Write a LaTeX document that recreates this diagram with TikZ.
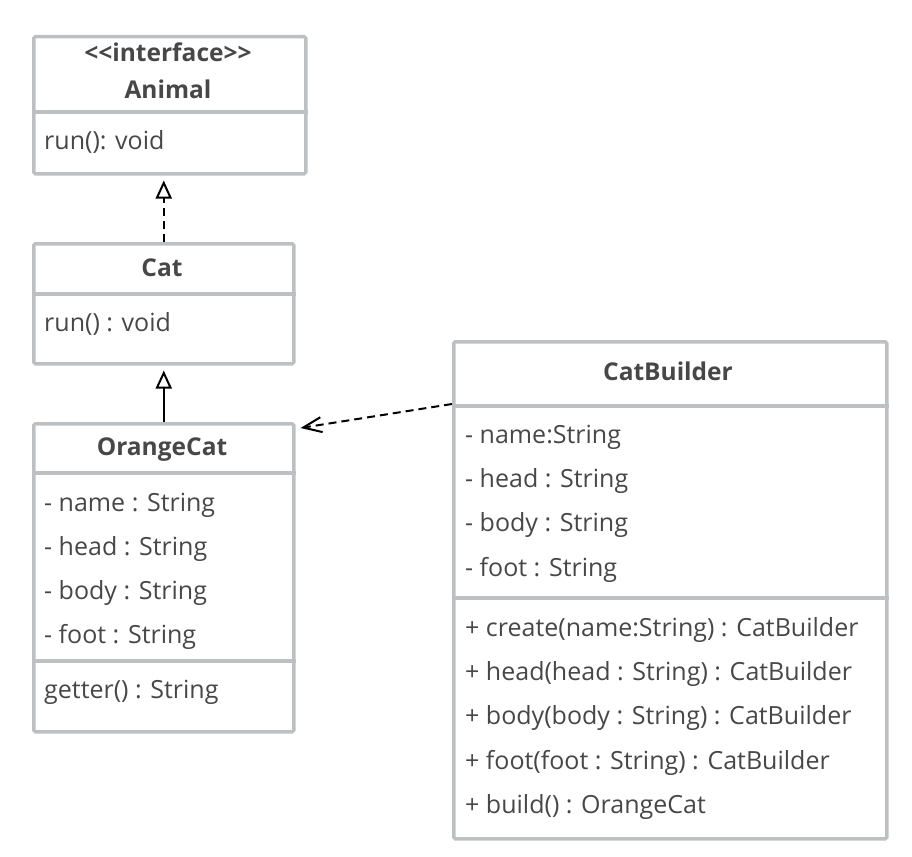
\documentclass[tikz,border=0pt]{standalone}
\usepackage{fontspec}
\setmainfont{Open Sans}
\usetikzlibrary{positioning}
\usetikzlibrary{calc}
\usetikzlibrary{arrows.meta}
\definecolor{boxgray}{HTML}{BDC0C2}
\definecolor{textgray}{HTML}{474747}

\begin{document}
\begin{tikzpicture}[x=1pt,y=-1pt,
  umlbox/.style={draw=boxgray,line width=3.5pt,rounded corners=1.5pt,anchor=north west,inner sep=0pt},
  divider/.style={draw=boxgray,line width=3.5pt},
  title/.style={anchor=base,inner sep=0pt,text=textgray,font=\bfseries\fontsize{24.5}{28}\selectfont},
  member/.style={anchor=base west,inner sep=0pt,text=textgray,font=\fontsize{25}{29}\selectfont},
  realize/.style={line width=2pt,dash pattern=on 8pt off 5pt,shorten >=5pt,-{Triangle[open,length=18pt,width=16pt]}},
  inherit/.style={line width=2pt,shorten >=5pt,-{Triangle[open,length=18pt,width=16pt]}},
  depend/.style={line width=2pt,dash pattern=on 8pt off 5pt,-{Straight Barb[angle=44:20pt]}}]
  \useasboundingbox (0,0) rectangle (912,856);

  % Animal
  \node[umlbox,minimum width=272pt,minimum height=137pt] (animal) at (32,35) {};
  \draw[divider] (animal.west |- 0,112) -- (animal.east |- 0,112);
  \node[title] (animalstereo) at (168,62) {<\kern0pt<interface>\kern0pt>};
  \node[title] (animalname) at (168,99) {Animal};
  \node[member] (animalop) at (44,149) {run(): void};

  % Cat
  \node[umlbox,minimum width=260pt,minimum height=120pt] (cat) at (32,242) {};
  \draw[divider] (cat.west |- 0,294) -- (cat.east |- 0,294);
  \node[title] (catname) at (162,276) {Cat};
  \node[member] (catop) at (44,331) {run() : void};

  % OrangeCat
  \node[umlbox,minimum width=260pt,minimum height=308pt] (orange) at (32,422) {};
  \draw[divider] (orange.west |- 0,473) -- (orange.east |- 0,473);
  \draw[divider] (orange.west |- 0,661) -- (orange.east |- 0,661);
  \node[title] (orangename) at (162,455) {OrangeCat};
  \foreach \attr [count=\i] in {name,head,body,foot}
    \node[member] (orangeattr\i) at (44,{467+44*\i}) {- \attr\ : String};
  \node[member] (orangeop) at (44,698) {getter() : String};

  % CatBuilder
  \node[umlbox,minimum width=433pt,minimum height=497pt] (builder) at (452,340) {};
  \draw[divider] (builder.west |- 0,406) -- (builder.east |- 0,406);
  \draw[divider] (builder.west |- 0,598) -- (builder.east |- 0,598);
  \node[title] (buildername) at (668,380) {CatBuilder};
  \foreach \attr [count=\i] in {- name:String,- head : String,- body : String,- foot : String}
    \node[member] (builderattr\i) at (465,{399+44.3*\i}) {\attr};
  \foreach \op [count=\i] in {+ create(name:String) : CatBuilder,
      + head(head : String) : CatBuilder,
      + body(body : String) : CatBuilder,
      + foot(foot : String) : CatBuilder,
      + build() : OrangeCat}
    \node[member] (builderop\i) at (465,{592+44.3*\i}) {\op};

  % relations
  \draw[realize] (cat.north) -- (cat.north |- animal.south);
  \draw[inherit] (orange.north) -- (orange.north |- cat.south);
  \draw[depend] ($(builder.north west)+(0,64)$) -- ($(orange.north east)+(5,6)$);
\end{tikzpicture}
\end{document}
